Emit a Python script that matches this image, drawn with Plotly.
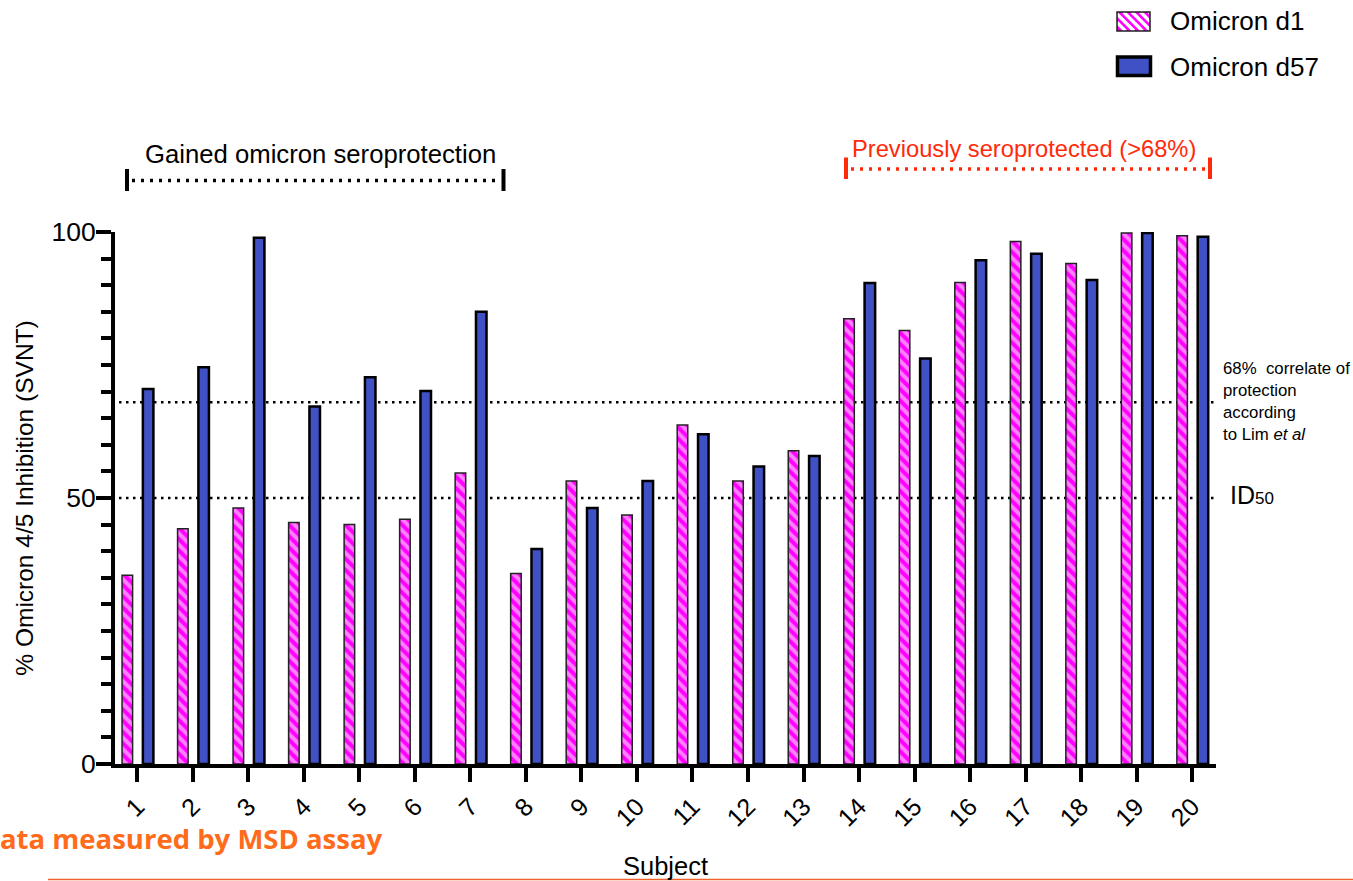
import plotly.graph_objects as go

# Per-subject SVNT inhibition (%) against Omicron at day 1 and day 57
subjects = list(range(1, 21))
subject_labels = [str(s) for s in subjects]
omicron_d1 = [35.5, 44.2, 48.1, 45.4, 45.0, 46.0, 54.7, 35.8, 53.2, 46.8,
              63.7, 53.2, 58.9, 83.7, 81.5, 90.5, 98.2, 94.1, 99.8, 99.3]
omicron_d57 = [70.5, 74.6, 98.9, 67.2, 72.7, 70.1, 85.0, 40.4, 48.1, 53.2,
               62.0, 55.9, 57.9, 90.4, 76.2, 94.7, 95.9, 91.0, 99.8, 99.1]
y_ticks = [0, 50, 100]
protection_threshold = 68
id50_level = 50

PINK = "#FF00FF"
BLUE = "#3F51C4"
RED = "#FF2A0A"
ORANGE = "#FF6B1A"
FONT = "Liberation Sans, Arial, sans-serif"

W, H = 1353, 881
L, R, T, B = 115, 137, 232, 117
PW, PH = W - L - R, H - T - B


def px(x):
    """Pixel column -> paper x."""
    return (x - L) / PW


def py(y):
    """Pixel row (from top) -> paper y."""
    return (H - B - y) / PH


fig = go.Figure()

fig.add_trace(go.Bar(
    x=subjects, y=omicron_d1, name="Omicron d1",
    width=0.19, offset=-0.275,
    marker=dict(color=PINK, line=dict(color="#222222", width=1.5),
                pattern=dict(shape="\\", fgcolor="white", size=8, solidity=0.5)),
    showlegend=False,
))
fig.add_trace(go.Bar(
    x=subjects, y=omicron_d57, name="Omicron d57",
    width=0.19, offset=0.10,
    marker=dict(color=BLUE, line=dict(color="black", width=2.5)),
    showlegend=False,
))

shapes = []
# reference levels behind the bars
for lvl in (protection_threshold, id50_level):
    shapes.append(dict(type="line", xref="paper", yref="y", x0=px(119), x1=1.0,
                       y0=lvl, y1=lvl, layer="below",
                       line=dict(color="black", width=2.7, dash="2.5px,4.5px")))


def bracket(x0, x1, y, cap_top, cap_bot, color):
    out = [dict(type="line", xref="paper", yref="paper",
                x0=px(x0 + 5), x1=px(x1 - 5), y0=py(y), y1=py(y),
                line=dict(color=color, width=3.5, dash="3px,6px"))]
    for xx in (x0, x1):
        out.append(dict(type="line", xref="paper", yref="paper",
                        x0=px(xx), x1=px(xx), y0=py(cap_top), y1=py(cap_bot),
                        line=dict(color=color, width=4)))
    return out


shapes += bracket(127, 503.5, 180.5, 169, 191, "black")
shapes += bracket(846, 1210, 169, 157.5, 179, RED)

# legend swatches
def swatch_box(x0, y0, x1, y1, fill, line_color, line_w):
    return dict(type="rect", xref="paper", yref="paper",
                x0=px(x0), x1=px(x1), y0=py(y0), y1=py(y1),
                fillcolor=fill, line=dict(color=line_color, width=line_w))


sx0, sy0, sx1, sy1 = 1117, 12, 1150, 31
shapes.append(swatch_box(sx0, sy0, sx1, sy1, PINK, "rgba(0,0,0,0)", 0))
h = sy1 - sy0
period = 8.5
a = sx0 - h
while a < sx1:
    t0 = max(0.0, sx0 - a)
    t1 = min(h, sx1 - a)
    if t1 > t0:
        shapes.append(dict(type="line", xref="paper", yref="paper",
                           x0=px(a + t0), y0=py(sy0 + t0),
                           x1=px(a + t1), y1=py(sy0 + t1),
                           line=dict(color="white", width=3.4)))
    a += period
shapes.append(swatch_box(sx0, sy0, sx1, sy1, "rgba(0,0,0,0)", "#222222", 1.5))
shapes.append(swatch_box(1117.5, 57, 1150.5, 75.5, BLUE, "black", 3.5))

# footer rule
shapes.append(dict(type="line", xref="paper", yref="paper",
                   x0=px(48), x1=px(W), y0=py(879.5), y1=py(879.5),
                   line=dict(color="#F0602C", width=1.6)))

annotations = [
    dict(text="Gained omicron seroprotection", xref="paper", yref="paper",
         x=px(320), y=py(154), xanchor="center", yanchor="middle", showarrow=False,
         font=dict(family=FONT, size=25.7, color="black")),
    dict(text="Previously seroprotected (>68%)", xref="paper", yref="paper",
         x=px(1024), y=py(149), xanchor="center", yanchor="middle", showarrow=False,
         font=dict(family=FONT, size=23.7, color=RED)),
    dict(text="68%  correlate of<br>protection<br>according<br>to Lim <i>et al</i>",
         xref="paper", yref="paper", x=px(1221), y=py(401), xanchor="left",
         yanchor="middle", align="left", showarrow=False,
         font=dict(family=FONT, size=16.8, color="black")),
    dict(text="ID<span style='font-size:17px'>50</span>", xref="paper", yref="paper",
         x=px(1228), y=py(495), xanchor="left", yanchor="middle", showarrow=False,
         font=dict(family=FONT, size=25, color="black")),
    dict(text="Omicron d1", xref="paper", yref="paper", x=px(1168), y=py(21),
         xanchor="left", yanchor="middle", showarrow=False,
         font=dict(family=FONT, size=26, color="black")),
    dict(text="Omicron d57", xref="paper", yref="paper", x=px(1168), y=py(67),
         xanchor="left", yanchor="middle", showarrow=False,
         font=dict(family=FONT, size=26, color="black")),
    dict(text="<b>ata measured by MSD assay</b>", xref="paper", yref="paper",
         x=px(-2), y=py(838), xanchor="left", yanchor="middle", showarrow=False,
         font=dict(family="Open Sans, sans-serif", size=27.5, color=ORANGE)),
]

fig.update_layout(
    width=W, height=H,
    margin=dict(l=L, r=R, t=T, b=B, autoexpand=False),
    paper_bgcolor="white", plot_bgcolor="white",
    barmode="overlay",
    showlegend=False,
    font=dict(family=FONT, color="black"),
    shapes=shapes,
    annotations=annotations,
)

fig.update_xaxes(
    range=[0.598, 20.43],
    tickmode="array", tickvals=subjects, ticktext=subject_labels,
    tickangle=-45, tickfont=dict(size=25),
    ticks="outside", ticklen=14, tickwidth=4, tickcolor="black",
    showline=True, linewidth=4, linecolor="black",
    showgrid=False, zeroline=False,
    title=dict(text="Subject", font=dict(size=25.5), standoff=28),
    automargin=False,
)
fig.update_yaxes(
    range=[0, 100],
    tickmode="array", tickvals=y_ticks, tickfont=dict(size=26.5),
    ticklabelstandoff=-5,
    ticks="outside", ticklen=15, tickwidth=4, tickcolor="black",
    minor=dict(dtick=5, ticks="outside", ticklen=10, tickwidth=4, tickcolor="black"),
    showline=True, linewidth=4, linecolor="black",
    showgrid=False, zeroline=False,
    title=dict(text="% Omicron 4/5 Inhibition (SVNT)", font=dict(size=24.5), standoff=12),
    automargin=False,
)

fig.write_html("out.html")
